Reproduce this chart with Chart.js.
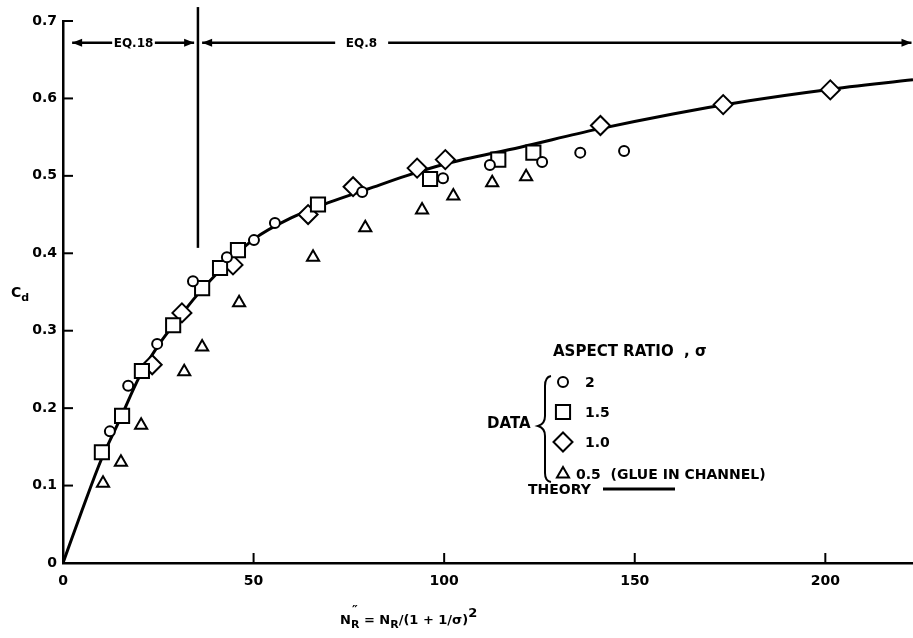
<!DOCTYPE html>
<html>
<head>
<meta charset="utf-8">
<script src="https://cdn.jsdelivr.net/npm/chart.js@4.4.1/dist/chart.umd.min.js"></script>
<style>
    html, body { margin: 0; padding: 0; background: #fff; overflow: hidden; }
    canvas { display: block; }
</style>
</head>
<body>
<canvas id="myChart" width="913" height="638"></canvas>
<script>
const xTicks = [0, 50, 100, 150, 200]
const yTicks = [0, 0.1, 0.2, 0.3, 0.4, 0.5, 0.6, 0.7]
const yTickLabels = ['0', '0.1', '0.2', '0.3', '0.4', '0.5', '0.6', '0.7']

// aspect ratio 2
const circleX = [12.3, 17.1, 24.7, 34.1, 43.0, 50.1, 55.6, 78.5, 99.7, 112.0, 125.7, 135.7, 147.2]
const circleY = [0.170, 0.229, 0.283, 0.364, 0.395, 0.417, 0.439, 0.479, 0.497, 0.514, 0.518, 0.530, 0.532]
// aspect ratio 1.5
const squareX = [10.2, 15.5, 20.7, 28.9, 36.5, 41.2, 45.9, 66.9, 96.3, 114.2, 123.4]
const squareY = [0.143, 0.190, 0.248, 0.307, 0.355, 0.381, 0.404, 0.463, 0.496, 0.521, 0.530]
// aspect ratio 1.0
const diamondX = [23.4, 31.2, 44.6, 64.3, 76.1, 92.9, 100.3, 141.0, 173.2, 201.3]
const diamondY = [0.256, 0.323, 0.385, 0.450, 0.486, 0.510, 0.521, 0.565, 0.592, 0.611]
// aspect ratio 0.5 (glue in channel)
const triangleX = [10.5, 15.2, 20.5, 31.8, 36.5, 46.2, 65.6, 79.3, 94.2, 102.4, 112.6, 121.5]
const triangleY = [0.103, 0.130, 0.178, 0.247, 0.279, 0.336, 0.395, 0.433, 0.456, 0.474, 0.491, 0.499]
// theory curve
const theoryX = [0, 5, 10, 15, 20, 25, 30, 35, 40, 50, 60, 70, 80, 90, 100, 120, 140, 160, 180, 200, 223]
const theoryY = [0, 0.068, 0.133, 0.186, 0.240, 0.281, 0.314, 0.345, 0.372, 0.418, 0.446, 0.466, 0.483, 0.500, 0.515, 0.537, 0.560, 0.580, 0.597, 0.611, 0.624]

// EQ.18 / EQ.8 boundary
const boundaryX = [35.4, 35.4]
const boundaryY = [0.407, 0.718]
const eqLineY = 0.672
const eqSegments = [[2.4, 12.9, 'start'], [24.1, 34.4, 'end'], [36.5, 71.4, 'start'], [85.3, 222.6, 'end']]
const eqLabels = [['EQ.18', 18.5], ['EQ.8', 78.3]]

const pts = (xs, ys) => xs.map((x, i) => ({x: x, y: ys[i]}))
const FONT = '"DejaVu Sans", sans-serif'

const marker = (label, xs, ys, style, r) => ({
    label: label,
    data: pts(xs, ys),
    pointStyle: style,
    pointRadius: r,
    borderColor: '#000',
    backgroundColor: '#fff',
    borderWidth: 2,
    showLine: false
})

const arrow = (ctx, x, y, dir) => {
    ctx.beginPath()
    ctx.moveTo(x, y)
    ctx.lineTo(x - dir * 10, y - 4)
    ctx.lineTo(x - dir * 10, y + 4)
    ctx.closePath()
    ctx.fill()
}

const rich = (ctx, pieces, x, y) => {
    pieces.forEach(p => {
        ctx.font = 'bold ' + p.size + 'px ' + FONT
        ctx.fillText(p.t, x + (p.dx || 0), y + (p.dy || 0))
        if (!p.keep) x += ctx.measureText(p.t).width
    })
}

const decor = {
    id: 'decor',
    afterDraw(chart) {
        const ctx = chart.ctx
        const xs = chart.scales.x, ys = chart.scales.y
        ctx.save()
        ctx.strokeStyle = '#000'
        ctx.fillStyle = '#000'
        ctx.lineWidth = 2

        // inside tick marks
        const x0 = xs.getPixelForValue(0), y0 = ys.getPixelForValue(0)
        yTicks.forEach(v => {
            const py = ys.getPixelForValue(v)
            ctx.beginPath(); ctx.moveTo(x0, py); ctx.lineTo(x0 + 10, py); ctx.stroke()
        })
        xTicks.slice(1).forEach(v => {
            const px = xs.getPixelForValue(v)
            ctx.beginPath(); ctx.moveTo(px, y0); ctx.lineTo(px, y0 - 10); ctx.stroke()
        })

        // EQ line with arrows
        const ly = ys.getPixelForValue(eqLineY)
        ctx.lineWidth = 2.5
        eqSegments.forEach(([a, b, at]) => {
            const pa = xs.getPixelForValue(a), pb = xs.getPixelForValue(b)
            ctx.beginPath(); ctx.moveTo(pa, ly); ctx.lineTo(pb, ly); ctx.stroke()
            if (at === 'start') arrow(ctx, pa, ly, -1)
            else arrow(ctx, pb, ly, 1)
        })
        ctx.font = 'bold 12px ' + FONT
        ctx.textAlign = 'center'
        ctx.textBaseline = 'middle'
        eqLabels.forEach(([t, v]) => ctx.fillText(t, xs.getPixelForValue(v), ly + 1))

        // legend
        ctx.textAlign = 'left'
        ctx.font = 'bold 15px ' + FONT
        ctx.fillText('ASPECT RATIO  , σ', 553, 352)
        const items = [['circle', 5, '2', 382], ['rect', 10, '1.5', 412], ['rectRot', 9.5, '1.0', 442], ['triangle', 7, '0.5  (GLUE IN CHANNEL)', 474]]
        items.forEach(([st, r, t, py]) => {
            ctx.lineWidth = 2
            ctx.fillStyle = '#fff'
            Chart.helpers.drawPoint(ctx, {pointStyle: st, radius: r, rotation: 0, borderWidth: 2}, 563, py)
            ctx.fillStyle = '#000'
            ctx.font = 'bold 14px ' + FONT
            ctx.fillText(t, st === 'triangle' ? 576 : 585, py + 1)
        })
        ctx.font = 'bold 15px ' + FONT
        ctx.fillText('DATA', 487, 424)
        ctx.font = 'bold 14px ' + FONT
        ctx.fillText('THEORY', 528, 490)
        ctx.lineWidth = 3
        ctx.beginPath(); ctx.moveTo(603, 489); ctx.lineTo(675, 489); ctx.stroke()
        // brace
        ctx.lineWidth = 2
        ctx.beginPath()
        ctx.moveTo(551, 376)
        ctx.quadraticCurveTo(545, 377, 545, 386)
        ctx.lineTo(545, 416)
        ctx.quadraticCurveTo(545, 424, 538, 426)
        ctx.quadraticCurveTo(545, 428, 545, 436)
        ctx.lineTo(545, 473)
        ctx.quadraticCurveTo(545, 481, 551, 482)
        ctx.stroke()

        // axis titles
        ctx.textBaseline = 'alphabetic'
        rich(ctx, [
            {t: 'C', size: 14},
            {t: 'd', size: 11, dy: 4}
        ], 11, 297)
        rich(ctx, [
            {t: 'N', size: 13},
            {t: '\u2033', size: 13, dy: -10, dx: 1, keep: true},
            {t: 'R', size: 11, dy: 4},
            {t: ' = N', size: 13},
            {t: 'R', size: 11, dy: 4},
            {t: '/(1 + 1/σ)', size: 13},
            {t: '2', size: 13, dy: -7}
        ], 340, 624)
        ctx.restore()
    }
}

const config = {
    type: 'scatter',
    data: {
        datasets: [
            marker('2', circleX, circleY, 'circle', 5),
            marker('1.5', squareX, squareY, 'rect', 10),
            marker('1.0', diamondX, diamondY, 'rectRot', 9.5),
            marker('0.5 (glue in channel)', triangleX, triangleY, 'triangle', 7),
            {
                label: 'Theory',
                data: pts(theoryX, theoryY),
                showLine: true,
                pointRadius: 0,
                borderColor: '#000',
                borderWidth: 3,
                cubicInterpolationMode: 'monotone'
            },
            {
                label: 'boundary',
                data: pts(boundaryX, boundaryY),
                showLine: true,
                pointRadius: 0,
                borderColor: '#000',
                borderWidth: 2.5,
                clip: false
            }
        ]
    },
    options: {
        responsive: false,
        animation: false,
        events: [],
        layout: {
            autoPadding: false,
            padding: { top: 21, right: 0, left: 0, bottom: 0 }
        },
        scales: {
            x: {
                type: 'linear',
                min: 0,
                max: 223,
                afterBuildTicks: (s) => { s.ticks = xTicks.map(v => ({value: v})) },
                afterFit: (s) => { s.height = 75 },
                grid: { display: false, drawTicks: false },
                border: { display: true, color: '#000', width: 2.5 },
                ticks: {
                    padding: 10,
                    color: '#000',
                    font: { family: FONT, size: 14, weight: 'bold' }
                }
            },
            y: {
                type: 'linear',
                min: 0,
                max: 0.7,
                afterBuildTicks: (s) => { s.ticks = yTicks.map(v => ({value: v})) },
                afterFit: (s) => { s.width = 63 },
                grid: { display: false, drawTicks: false },
                border: { display: true, color: '#000', width: 2.5 },
                ticks: {
                    padding: 6,
                    color: '#000',
                    font: { family: FONT, size: 14, weight: 'bold' },
                    callback: (value) => yTickLabels[yTicks.findIndex(t => Math.abs(t - value) < 1e-6)]
                }
            }
        },
        plugins: {
            legend: { display: false },
            tooltip: { enabled: false }
        }
    },
    plugins: [decor]
}

new Chart(document.getElementById('myChart'), config)
</script>
</body>
</html>
